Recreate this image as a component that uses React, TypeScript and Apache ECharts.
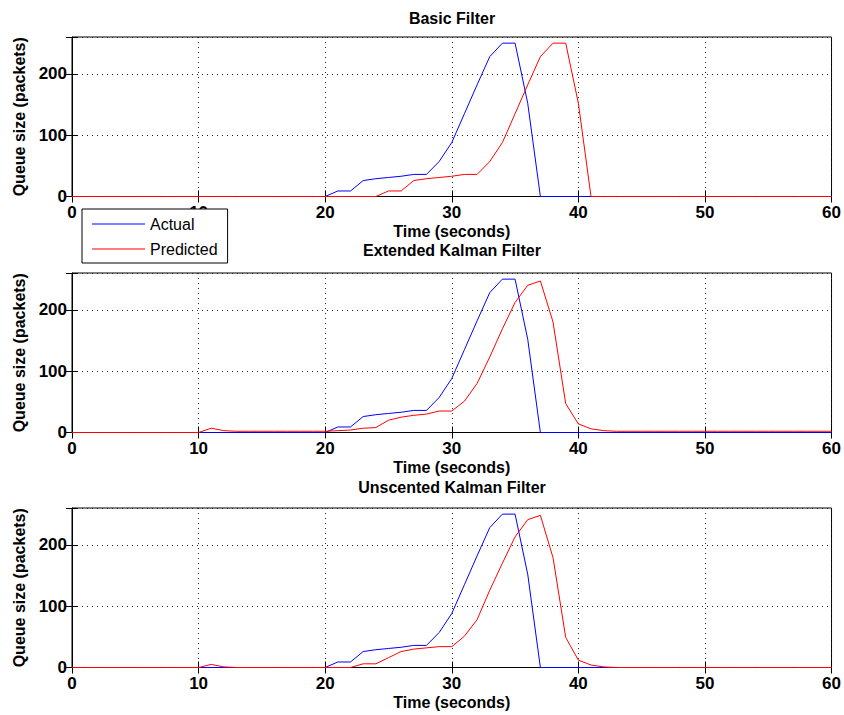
import React, { useEffect, useRef } from "react";
import * as echarts from "echarts";

// ---- Data ----
const time: number[] = Array.from({ length: 61 }, (_, i) => i); // seconds 0..60

const actual: number[] = [
  0, 0, 0, 0, 0, 0, 0, 0, 0, 0,
  0, 0, 0, 0, 0, 0, 0, 0, 0, 0,
  0, 9, 9, 26, 29, 31, 33, 36, 36, 57,
  88, 135, 182, 228, 250, 250, 152, 0, 0, 0,
  0, 0, 0, 0, 0, 0, 0, 0, 0, 0,
  0, 0, 0, 0, 0, 0, 0, 0, 0, 0,
  0,
];

const predictedBasic: number[] = [
  0, 0, 0, 0, 0, 0, 0, 0, 0, 0,
  0, 0, 0, 0, 0, 0, 0, 0, 0, 0,
  0, 0, 0, 0, 0, 9, 9, 26, 29, 31,
  33, 36, 36, 57, 88, 135, 182, 228, 250, 250,
  152, 0, 0, 0, 0, 0, 0, 0, 0, 0,
  0, 0, 0, 0, 0, 0, 0, 0, 0, 0,
  0,
];

const predictedEKF: number[] = [
  0, 0, 0, 0, 0, 0, 0, 0, 0, 0,
  0, 7, 3, 2, 2, 2, 2, 2, 2, 2,
  2, 3, 4, 7, 8, 20, 25, 28, 30, 35,
  35, 51, 80, 123, 169, 212, 240, 247, 180, 47,
  14, 6, 3, 2, 2, 2, 2, 2, 2, 2,
  2, 2, 2, 2, 2, 2, 2, 2, 2, 2,
  2,
];

const predictedUKF: number[] = [
  0, 0, 0, 0, 0, 0, 0, 0, 0, 0,
  0, 5, 1, 0, 0, 0, 0, 0, 0, 0,
  0, 0, 0, 6, 6, 16, 26, 30, 32, 34,
  34, 51, 78, 126, 170, 213, 241, 248, 179, 49,
  12, 4, 1, 0, 0, 0, 0, 0, 0, 0,
  0, 0, 0, 0, 0, 0, 0, 0, 0, 0,
  0,
];

const panelTitles: string[] = ["Basic Filter", "Extended Kalman Filter", "Unscented Kalman Filter"];
const predictedSets: number[][] = [predictedBasic, predictedEKF, predictedUKF];
const xTicks: number[] = [0, 10, 20, 30, 40, 50, 60];
const yTicks: number[] = [0, 100, 200];
const yMax = 260;

const FONT = "'Liberation Sans', Arial, Helvetica, sans-serif";

export default function App() {
  const ref = useRef<HTMLDivElement | null>(null);

  useEffect(() => {
    document.body.style.margin = "0";
    if (!ref.current) return;
    const chart = echarts.init(ref.current, undefined, { renderer: "svg" });

    const gridTops = [37, 273, 508];
    const gridHeight = 159.5;
    const titleTops = [10, 242, 479];

    const grids = gridTops.map((t) => ({
      left: 72,
      width: 760,
      top: t,
      height: gridHeight,
      show: true,
      borderColor: "#000",
      borderWidth: 1,
      backgroundColor: "#fff",
    }));

    const tickStyle = { show: true, inside: true, length: 6, lineStyle: { color: "#000", width: 1 } };
    const gridLine = { show: true, lineStyle: { color: "#222", width: 1, type: [1, 4] as any } };
    const labelFont = { fontFamily: FONT, fontSize: 17, fontWeight: "bold" as const, color: "#000" };
    const nameFont = { fontFamily: FONT, fontSize: 16, fontWeight: "bold" as const, color: "#000" };

    const xAxes: any[] = [];
    const yAxes: any[] = [];
    gridTops.forEach((_, i) => {
      xAxes.push({
        type: "value",
        gridIndex: i,
        position: "bottom",
        min: xTicks[0],
        max: xTicks[xTicks.length - 1],
        interval: xTicks[1] - xTicks[0],
        name: "Time (seconds)",
        nameLocation: "middle",
        nameGap: 27,
        nameTextStyle: nameFont,
        axisLine: { show: true, onZero: false, lineStyle: { color: "#000", width: 1 } },
        axisTick: tickStyle,
        axisLabel: { ...labelFont, margin: 7 },
        splitLine: gridLine,
      });
      yAxes.push({
        type: "value",
        gridIndex: i,
        position: "left",
        min: 0,
        max: yMax,
        interval: yTicks[1] - yTicks[0],
        name: "Queue size (packets)",
        nameLocation: "middle",
        nameGap: 44,
        nameTextStyle: nameFont,
        axisLine: { show: true, lineStyle: { color: "#000", width: 1 } },
        axisTick: tickStyle,
        axisLabel: {
          ...labelFont,
          margin: 5,
          formatter: (v: number) => (yTicks.indexOf(v) >= 0 ? String(v) : ""),
        },
        splitLine: gridLine,
      });
    });
    // mirror axes for the inward ticks on the top and right edges
    gridTops.forEach((_, i) => {
      xAxes.push({
        type: "value",
        gridIndex: i,
        position: "top",
        min: xTicks[0],
        max: xTicks[xTicks.length - 1],
        interval: xTicks[1] - xTicks[0],
        axisLine: { show: false },
        axisTick: tickStyle,
        axisLabel: { show: false },
        splitLine: { show: false },
      });
      yAxes.push({
        type: "value",
        gridIndex: i,
        position: "right",
        min: 0,
        max: yMax,
        interval: yTicks[1] - yTicks[0],
        axisLine: { show: false },
        axisTick: tickStyle,
        axisLabel: { show: false },
        splitLine: { show: false },
      });
    });

    const series: any[] = [];
    gridTops.forEach((_, i) => {
      series.push({
        name: "Actual",
        type: "line",
        xAxisIndex: i,
        yAxisIndex: i,
        data: time.map((t, k) => [t, actual[k]]),
        symbol: "none",
        lineStyle: { color: "#0000ff", width: 1 },
        itemStyle: { color: "#0000ff" },
        z: 3,
      });
      series.push({
        name: "Predicted",
        type: "line",
        xAxisIndex: i,
        yAxisIndex: i,
        data: time.map((t, k) => [t, predictedSets[i][k]]),
        symbol: "none",
        lineStyle: { color: "#ff0000", width: 1 },
        itemStyle: { color: "#ff0000" },
        z: 4,
      });
    });

    chart.setOption({
      animation: false,
      backgroundColor: "#fff",
      title: panelTitles.map((txt, i) => ({
        text: txt,
        left: 452,
        top: titleTops[i],
        textAlign: "center",
        padding: 0,
        textStyle: { fontFamily: FONT, fontSize: 16, fontWeight: "bold", color: "#000" },
      })),
      legend: {
        data: [
          { name: "Actual", icon: "rect", itemStyle: { color: "#0000ff" } },
          { name: "Predicted", icon: "rect", itemStyle: { color: "#ff0000" } },
        ],
        orient: "vertical",
        left: 82,
        top: 209,
        padding: [7, 10, 6, 10],
        itemWidth: 53,
        itemHeight: 1,
        itemGap: 9,
        backgroundColor: "#fff",
        borderColor: "#000",
        borderWidth: 1,
        borderRadius: 0,
        selectedMode: false,
        z: 10,
        textStyle: { fontFamily: FONT, fontSize: 16, lineHeight: 16, color: "#000" },
      },
      grid: grids,
      xAxis: xAxes,
      yAxis: yAxes,
      series,
    });

    return () => chart.dispose();
  }, []);

  return <div ref={ref} style={{ width: 844, height: 715 }} />;
}
